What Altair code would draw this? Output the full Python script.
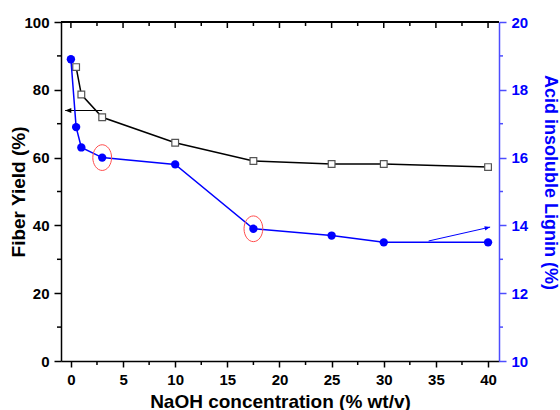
import altair as alt
import pandas as pd

# ---------------- data ----------------
naoh_fy = [0.5, 1, 3, 10, 17.5, 25, 30, 40]
fiber_yield = [86.7, 78.6, 71.9, 64.4, 59.0, 58.1, 58.1, 57.2]

naoh_lig = [0, 0.5, 1, 3, 10, 17.5, 25, 30, 40]
lignin = [18.9, 16.9, 16.3, 16.0, 15.8, 13.9, 13.7, 13.5, 13.5]

circled_x = [3, 17.5]
circled_lig = [16.0, 13.9]

black_arrow_x = [3]
black_arrow_x2 = [-0.55]
black_arrow_y = [73.9]

blue_arrow_x = [34.3]
blue_arrow_x2 = [40.2]
blue_arrow_y = [13.54]
blue_arrow_y2 = [13.95]

x_major = [0, 5, 10, 15, 20, 25, 30, 35, 40]
x_minor = [2.5, 7.5, 12.5, 17.5, 22.5, 27.5, 32.5, 37.5]
fy_ticks = [0, 20, 40, 60, 80, 100]
fy_minor = [10, 30, 50, 70, 90]
lig_ticks = [10, 12, 14, 16, 18, 20]
lig_minor = [11, 13, 15, 17, 19]

# ---------------- layout ----------------
W, H = 438, 339
FONT = "Liberation Sans"
BLUE = "#0000FF"
XD = [-0.95, 41.05]

df_fy = pd.DataFrame({"x": naoh_fy, "y": fiber_yield})
df_lig = pd.DataFrame({"x": naoh_lig, "y": lignin})
df_circ = pd.DataFrame({"x": circled_x, "y": circled_lig})
df_barrow = pd.DataFrame({"x": black_arrow_x, "x2": black_arrow_x2, "y": black_arrow_y})
df_barrow_head = pd.DataFrame({"x": black_arrow_x2, "y": black_arrow_y})
df_larrow = pd.DataFrame({"x": blue_arrow_x, "x2": blue_arrow_x2, "y": blue_arrow_y, "y2": blue_arrow_y2})
df_larrow_head = pd.DataFrame({"x": blue_arrow_x2, "y": blue_arrow_y2})
df_xmaj = pd.DataFrame({"x": x_major})
df_xmin = pd.DataFrame({"x": x_minor})
df_fymin = pd.DataFrame({"y": fy_minor})
df_ligmin = pd.DataFrame({"y": lig_minor})

xscale = alt.Scale(domain=XD, nice=False, zero=False)

x_axis = alt.Axis(
    orient="bottom", values=x_major, title="NaOH concentration (% wt/v)",
    titleFont=FONT, titleFontSize=19, titleFontWeight="bold", titleColor="black",
    titleAlign="center", titleBaseline="alphabetic", titleX=W / 2, titleY=46,
    labelFont=FONT, labelFontSize=15, labelFontWeight="bold", labelColor="black",
    labelPadding=5, labelFlush=False, tickSize=6, tickColor="black", tickWidth=1.5,
    domainColor="black", domainWidth=1.5, grid=False, format="d",
)

left_axis = alt.Axis(
    orient="left", values=fy_ticks, title="Fiber Yield (%)",
    titleFont=FONT, titleFontSize=19, titleFontWeight="bold", titleColor="black",
    titleAngle=270, titleAlign="center", titleBaseline="alphabetic",
    titleX=-37, titleY=H / 2,
    labelFont=FONT, labelFontSize=15, labelFontWeight="bold", labelColor="black",
    labelPadding=5, tickSize=7, tickColor="black", tickWidth=1.5,
    domainColor="black", domainWidth=1.5, grid=False, format="d",
)

right_axis = alt.Axis(
    orient="right", values=lig_ticks, title="Acid insoluble Lignin (%)",
    titleFont=FONT, titleFontSize=18, titleFontWeight="bold", titleColor=BLUE,
    titleAngle=90, titleAlign="center", titleBaseline="alphabetic",
    titleX=45, titleY=160,
    labelFont=FONT, labelFontSize=15, labelFontWeight="bold", labelColor=BLUE,
    labelPadding=5, tickSize=7, tickColor="#4d4dff", tickWidth=1.5,
    domainColor="#4d4dff", domainWidth=1.5, grid=False, format="d",
)

fy_scale = alt.Scale(domain=[0, 100], nice=False, zero=False)
lig_scale = alt.Scale(domain=[10, 20], nice=False, zero=False)


def X(field="x"):
    return alt.X(field, type="quantitative", scale=xscale, axis=x_axis)


def YL(field="y"):
    return alt.Y(field, type="quantitative", scale=fy_scale, axis=left_axis)


def YR(field="y"):
    return alt.Y(field, type="quantitative", scale=lig_scale, axis=right_axis)


# ---------------- left (fiber yield) layer ----------------
black_line = alt.Chart(df_fy).mark_line(color="black", strokeWidth=1.5).encode(
    x=X(), y=YL())
squares = alt.Chart(df_fy).mark_point(
    shape="square", filled=True, fill="white", stroke="#555555", strokeWidth=1.2,
    size=45, opacity=1).encode(x=X(), y=YL())
barrow = alt.Chart(df_barrow).mark_rule(color="black", strokeWidth=1.2).encode(
    x=X(), x2="x2", y=YL())
barrow_head = alt.Chart(df_barrow_head).mark_point(
    shape="M0,0 L1,-0.4 L1,0.4 Z", filled=True, color="black", size=150, opacity=1
).encode(x=X(), y=YL())
left_minor = alt.Chart(df_fymin).mark_rule(color="black", strokeWidth=1.5).encode(
    y=YL(), x=alt.value(-4), x2=alt.value(0))
bottom_minor = alt.Chart(df_xmin).mark_rule(color="black", strokeWidth=1.5).encode(
    x=X(), y=alt.value(H), y2=alt.value(H + 4))
top_major = alt.Chart(df_xmaj).mark_rule(color="black", strokeWidth=1.5).encode(
    x=X(), y=alt.value(0), y2=alt.value(6))
top_minor = alt.Chart(df_xmin).mark_rule(color="black", strokeWidth=1.5).encode(
    x=X(), y=alt.value(0), y2=alt.value(4))
top_border = alt.Chart(df_xmaj).mark_rule(color="black", strokeWidth=1.5).encode(
    x=alt.value(0), x2=alt.value(W), y=alt.value(0))

left_layer = alt.layer(black_line, top_border, top_major, top_minor, bottom_minor,
                       left_minor, barrow, barrow_head, squares)

# ---------------- right (lignin) layer ----------------
ELLIPSE = ("M0,-1 C0.403,-1 0.73,-0.552 0.73,0 C0.73,0.552 0.403,1 0,1 "
           "C-0.403,1 -0.73,0.552 -0.73,0 C-0.73,-0.552 -0.403,-1 0,-1 Z")

blue_line = alt.Chart(df_lig).mark_line(color=BLUE, strokeWidth=1.5).encode(
    x=X(), y=YR())
circles = alt.Chart(df_lig).mark_point(
    shape="circle", filled=True, color=BLUE, size=70, opacity=1).encode(x=X(), y=YR())
ellipses = alt.Chart(df_circ).mark_point(
    shape=ELLIPSE, filled=False, stroke="#ff4d4d", strokeWidth=1, size=660, opacity=1
).encode(x=X(), y=YR())
larrow = alt.Chart(df_larrow).mark_rule(color=BLUE, strokeWidth=1).encode(
    x=X(), x2="x2", y=YR(), y2="y2")
larrow_head = alt.Chart(df_larrow_head).mark_point(
    shape="M0,0 L-1,-0.4 L-1,0.4 Z", filled=True, color=BLUE, size=120, opacity=1,
    angle=347).encode(x=X(), y=YR())
right_minor = alt.Chart(df_ligmin).mark_rule(color="#4d4dff", strokeWidth=1.5).encode(
    y=YR(), x=alt.value(W), x2=alt.value(W + 4))

right_layer = alt.layer(blue_line, right_minor, larrow, larrow_head, circles, ellipses)

chart = alt.layer(left_layer, right_layer).resolve_scale(y="independent").properties(
    width=W, height=H,
    autosize=alt.AutoSizeParams(type="none"),
    padding={"left": 61, "top": 22, "right": 61, "bottom": 49},
    background="white",
).configure_view(stroke=None)

chart.save("out.html", embed_options={"renderer": "svg", "actions": False})
